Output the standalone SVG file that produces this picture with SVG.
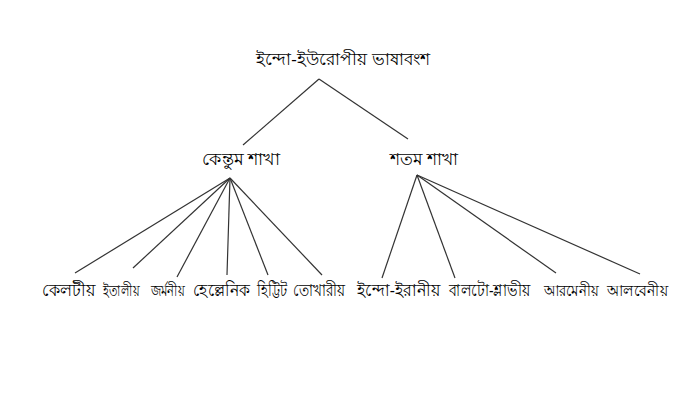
<svg xmlns="http://www.w3.org/2000/svg" width="700" height="400" viewBox="0 0 700 400">
<style>
text{font-family:"Noto Sans","DejaVu Sans",sans-serif;font-size:17px;fill:#000;text-anchor:middle}
.s{font-size:15.5px}
.c line{stroke:#333;stroke-width:1.2}
</style>
<rect width="700" height="400" fill="#fff"/>
<g class="c" id="connectors">
<line x1="319" y1="79" x2="243" y2="145"/>
<line x1="319" y1="79" x2="408" y2="139"/>
<line x1="230" y1="178" x2="75" y2="273"/>
<line x1="230" y1="178" x2="133" y2="268"/>
<line x1="230" y1="178" x2="177" y2="277"/>
<line x1="230" y1="178" x2="227" y2="275"/>
<line x1="230" y1="178" x2="268" y2="275"/>
<line x1="230" y1="178" x2="322" y2="275"/>
<line x1="417" y1="175" x2="382" y2="278"/>
<line x1="417" y1="175" x2="455" y2="278"/>
<line x1="417" y1="175" x2="556" y2="273"/>
<line x1="417" y1="175" x2="640" y2="274"/>
</g>
<g id="root"><text x="343" y="65" textLength="174" lengthAdjust="spacingAndGlyphs">ইন্দো-ইউরোপীয় ভাষাবংশ</text></g>
<g id="centum"><text x="241" y="165" textLength="78" lengthAdjust="spacingAndGlyphs">কেন্তুম শাখা</text></g>
<g id="satem"><text x="424" y="165" textLength="68" lengthAdjust="spacingAndGlyphs">শতম শাখা</text></g>
<g id="celtic"><text x="68.5" y="296" textLength="53" lengthAdjust="spacingAndGlyphs">কেলটীয়</text></g>
<g id="italic"><text class="s" x="121" y="296" textLength="36" lengthAdjust="spacingAndGlyphs">ইতালীয়</text></g>
<g id="germanic"><text class="s" x="167.5" y="296" textLength="34" lengthAdjust="spacingAndGlyphs">জর্মনীয়</text></g>
<g id="hellenic"><text x="221.5" y="296" textLength="57" lengthAdjust="spacingAndGlyphs">হেল্লেনিক</text></g>
<g id="hittite"><text x="272" y="296" textLength="30" lengthAdjust="spacingAndGlyphs">হিট্টিট</text></g>
<g id="tocharian"><text x="319" y="296" textLength="52" lengthAdjust="spacingAndGlyphs">তোখারীয়</text></g>
<g id="indoiranian"><text x="398.5" y="296" textLength="83" lengthAdjust="spacingAndGlyphs">ইন্দো-ইরানীয়</text></g>
<g id="baltoslavic"><text x="489.5" y="296" textLength="81" lengthAdjust="spacingAndGlyphs">বালটো-শ্লাভীয়</text></g>
<g id="armenian"><text class="s" x="571" y="296" textLength="55" lengthAdjust="spacingAndGlyphs">আরমেনীয়</text></g>
<g id="albanian"><text class="s" x="637" y="296" textLength="61" lengthAdjust="spacingAndGlyphs">আলবেনীয়</text></g>
</svg>
